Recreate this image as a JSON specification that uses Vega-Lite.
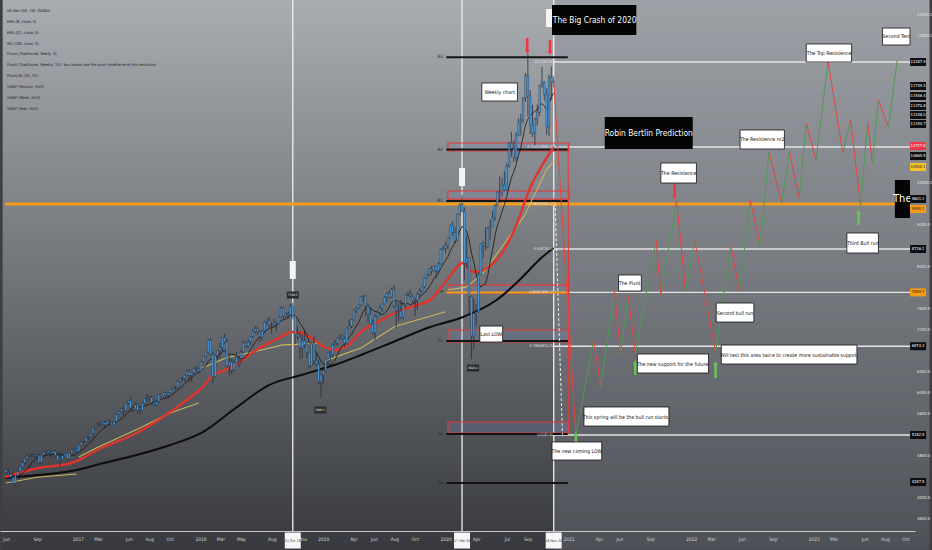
{
"$schema": "https://vega.github.io/schema/vega-lite/v6.json",
"width": 915, "height": 531, "padding": {"left": 0, "top": 0, "right": 17, "bottom": 19}, "autosize": {"type": "none"},
"background": "#3d3f45",
"config": {"view": {"stroke": null}, "text": {"font": "Liberation Sans Narrow, DejaVu Sans Condensed, sans-serif"}},
"datasets": {
"candles": [
{"d":"2016-05-30","o":4520,"h":4540,"l":4440,"c":4470},{"d":"2016-06-06","o":4470,"h":4530,"l":4430,"c":4440},{"d":"2016-06-13","o":4440,"h":4450,"l":4350,"c":4380},{"d":"2016-06-20","o":4380,"h":4480,"l":4250,"c":4260},{"d":"2016-06-27","o":4260,"h":4420,"l":4220,"c":4410},{"d":"2016-07-04","o":4410,"h":4500,"l":4360,"c":4490},{"d":"2016-07-11","o":4490,"h":4590,"l":4480,"c":4580},{"d":"2016-07-18","o":4580,"h":4680,"l":4560,"c":4660},{"d":"2016-07-25","o":4660,"h":4740,"l":4630,"c":4730},{"d":"2016-08-01","o":4730,"h":4790,"l":4690,"c":4780},{"d":"2016-08-08","o":4780,"h":4820,"l":4760,"c":4800},{"d":"2016-08-15","o":4800,"h":4820,"l":4770,"c":4800},{"d":"2016-08-22","o":4800,"h":4820,"l":4760,"c":4780},{"d":"2016-08-29","o":4780,"h":4810,"l":4750,"c":4800},{"d":"2016-09-05","o":4800,"h":4830,"l":4640,"c":4660},{"d":"2016-09-12","o":4660,"h":4810,"l":4630,"c":4800},{"d":"2016-09-19","o":4800,"h":4880,"l":4780,"c":4860},{"d":"2016-09-26","o":4860,"h":4900,"l":4820,"c":4880},{"d":"2016-10-03","o":4880,"h":4900,"l":4830,"c":4850},{"d":"2016-10-10","o":4850,"h":4890,"l":4770,"c":4830},{"d":"2016-10-17","o":4830,"h":4890,"l":4800,"c":4870},{"d":"2016-10-24","o":4870,"h":4900,"l":4760,"c":4790},{"d":"2016-10-31","o":4790,"h":4800,"l":4680,"c":4700},{"d":"2016-11-07","o":4700,"h":4860,"l":4580,"c":4720},{"d":"2016-11-14","o":4720,"h":4820,"l":4700,"c":4790},{"d":"2016-11-21","o":4790,"h":4840,"l":4780,"c":4830},{"d":"2016-11-28","o":4830,"h":4840,"l":4700,"c":4730},{"d":"2016-12-05","o":4730,"h":4850,"l":4710,"c":4840},{"d":"2016-12-12","o":4840,"h":4920,"l":4830,"c":4900},{"d":"2016-12-19","o":4900,"h":4930,"l":4880,"c":4920},{"d":"2016-12-26","o":4920,"h":4940,"l":4850,"c":4870},
{"d":"2017-01-02","o":4870,"h":5000,"l":4860,"c":4990},{"d":"2017-01-09","o":4990,"h":5070,"l":4980,"c":5050},{"d":"2017-01-16","o":5050,"h":5080,"l":5020,"c":5060},{"d":"2017-01-23","o":5060,"h":5150,"l":5050,"c":5140},{"d":"2017-01-30","o":5140,"h":5160,"l":5080,"c":5150},{"d":"2017-02-06","o":5150,"h":5220,"l":5140,"c":5210},{"d":"2017-02-13","o":5210,"h":5330,"l":5200,"c":5320},{"d":"2017-02-20","o":5320,"h":5360,"l":5300,"c":5350},{"d":"2017-02-27","o":5350,"h":5420,"l":5330,"c":5370},{"d":"2017-03-06","o":5370,"h":5420,"l":5340,"c":5380},{"d":"2017-03-13","o":5380,"h":5430,"l":5360,"c":5420},{"d":"2017-03-20","o":5420,"h":5450,"l":5330,"c":5380},{"d":"2017-03-27","o":5380,"h":5450,"l":5370,"c":5440},{"d":"2017-04-03","o":5440,"h":5480,"l":5380,"c":5420},{"d":"2017-04-10","o":5420,"h":5440,"l":5360,"c":5370},{"d":"2017-04-17","o":5370,"h":5450,"l":5350,"c":5440},{"d":"2017-04-24","o":5440,"h":5600,"l":5430,"c":5580},{"d":"2017-05-01","o":5580,"h":5640,"l":5560,"c":5630},{"d":"2017-05-08","o":5630,"h":5700,"l":5620,"c":5680},{"d":"2017-05-15","o":5680,"h":5720,"l":5550,"c":5650},{"d":"2017-05-22","o":5650,"h":5800,"l":5640,"c":5790},{"d":"2017-05-29","o":5790,"h":5850,"l":5770,"c":5840},{"d":"2017-06-05","o":5840,"h":5900,"l":5620,"c":5700},{"d":"2017-06-12","o":5700,"h":5760,"l":5610,"c":5680},{"d":"2017-06-19","o":5680,"h":5810,"l":5670,"c":5760},{"d":"2017-06-26","o":5760,"h":5790,"l":5590,"c":5650},{"d":"2017-07-03","o":5650,"h":5680,"l":5580,"c":5660},{"d":"2017-07-10","o":5660,"h":5810,"l":5650,"c":5790},{"d":"2017-07-17","o":5790,"h":5880,"l":5780,"c":5870},{"d":"2017-07-24","o":5870,"h":5970,"l":5820,"c":5880},{"d":"2017-07-31","o":5880,"h":5930,"l":5840,"c":5900},{"d":"2017-08-07","o":5900,"h":5940,"l":5760,"c":5800},{"d":"2017-08-14","o":5800,"h":5870,"l":5740,"c":5760},{"d":"2017-08-21","o":5760,"h":5850,"l":5730,"c":5820},{"d":"2017-08-28","o":5820,"h":5960,"l":5800,"c":5950},{"d":"2017-09-04","o":5950,"h":5980,"l":5900,"c":5920},{"d":"2017-09-11","o":5920,"h":6010,"l":5900,"c":5990},{"d":"2017-09-18","o":5990,"h":6010,"l":5900,"c":5950},{"d":"2017-09-25","o":5950,"h":6000,"l":5880,"c":5990},{"d":"2017-10-02","o":5990,"h":6060,"l":5980,"c":6050},{"d":"2017-10-09","o":6050,"h":6100,"l":6040,"c":6090},{"d":"2017-10-16","o":6090,"h":6110,"l":6040,"c":6090},{"d":"2017-10-23","o":6090,"h":6230,"l":6050,"c":6200},{"d":"2017-10-30","o":6200,"h":6270,"l":6180,"c":6260},{"d":"2017-11-06","o":6260,"h":6290,"l":6210,"c":6260},{"d":"2017-11-13","o":6260,"h":6330,"l":6200,"c":6320},{"d":"2017-11-20","o":6320,"h":6420,"l":6310,"c":6400},{"d":"2017-11-27","o":6400,"h":6440,"l":6200,"c":6320},{"d":"2017-12-04","o":6320,"h":6380,"l":6200,"c":6370},{"d":"2017-12-11","o":6370,"h":6470,"l":6350,"c":6440},{"d":"2017-12-18","o":6440,"h":6500,"l":6400,"c":6450},{"d":"2017-12-25","o":6450,"h":6470,"l":6390,"c":6400},
{"d":"2018-01-01","o":6400,"h":6590,"l":6390,"c":6580},{"d":"2018-01-08","o":6580,"h":6690,"l":6560,"c":6680},{"d":"2018-01-15","o":6680,"h":6770,"l":6660,"c":6760},{"d":"2018-01-22","o":6760,"h":7010,"l":6740,"c":6990},{"d":"2018-01-29","o":6990,"h":7020,"l":6700,"c":6720},{"d":"2018-02-05","o":6720,"h":6780,"l":6170,"c":6300},{"d":"2018-02-12","o":6300,"h":6720,"l":6280,"c":6700},{"d":"2018-02-19","o":6700,"h":6800,"l":6620,"c":6790},{"d":"2018-02-26","o":6790,"h":6940,"l":6640,"c":6850},{"d":"2018-03-05","o":6850,"h":7050,"l":6780,"c":7040},{"d":"2018-03-12","o":7040,"h":7110,"l":6930,"c":6960},{"d":"2018-03-19","o":6960,"h":7010,"l":6480,"c":6500},{"d":"2018-03-26","o":6500,"h":6700,"l":6310,"c":6580},{"d":"2018-04-02","o":6580,"h":6640,"l":6340,"c":6420},{"d":"2018-04-09","o":6420,"h":6620,"l":6400,"c":6560},{"d":"2018-04-16","o":6560,"h":6770,"l":6550,"c":6660},{"d":"2018-04-23","o":6660,"h":6720,"l":6480,"c":6640},{"d":"2018-04-30","o":6640,"h":6800,"l":6530,"c":6760},{"d":"2018-05-07","o":6760,"h":6980,"l":6740,"c":6940},{"d":"2018-05-14","o":6940,"h":6960,"l":6850,"c":6880},{"d":"2018-05-21","o":6880,"h":7000,"l":6850,"c":6960},{"d":"2018-05-28","o":6960,"h":7070,"l":6900,"c":7060},{"d":"2018-06-04","o":7060,"h":7200,"l":7040,"c":7150},{"d":"2018-06-11","o":7150,"h":7260,"l":7120,"c":7210},{"d":"2018-06-18","o":7210,"h":7250,"l":7110,"c":7150},{"d":"2018-06-25","o":7150,"h":7180,"l":6960,"c":7050},{"d":"2018-07-02","o":7050,"h":7180,"l":6990,"c":7170},{"d":"2018-07-09","o":7170,"h":7350,"l":7150,"c":7330},{"d":"2018-07-16","o":7330,"h":7400,"l":7280,"c":7360},{"d":"2018-07-23","o":7360,"h":7430,"l":7230,"c":7280},{"d":"2018-07-30","o":7280,"h":7330,"l":7110,"c":7280},{"d":"2018-08-06","o":7280,"h":7400,"l":7270,"c":7320},{"d":"2018-08-13","o":7320,"h":7340,"l":7150,"c":7300},{"d":"2018-08-20","o":7300,"h":7450,"l":7290,"c":7430},{"d":"2018-08-27","o":7430,"h":7630,"l":7420,"c":7600},{"d":"2018-09-03","o":7600,"h":7630,"l":7390,"c":7450},{"d":"2018-09-10","o":7450,"h":7520,"l":7420,"c":7490},{"d":"2018-09-17","o":7490,"h":7530,"l":7400,"c":7470},{"d":"2018-09-24","o":7470,"h":7680,"l":7450,"c":7630},{"d":"2018-10-01","o":7630,"h":7700,"l":7390,"c":7450},{"d":"2018-10-08","o":7450,"h":7450,"l":6920,"c":7100},{"d":"2018-10-15","o":7100,"h":7250,"l":7010,"c":7050},{"d":"2018-10-22","o":7050,"h":7150,"l":6630,"c":6850},{"d":"2018-10-29","o":6850,"h":7100,"l":6650,"c":6980},{"d":"2018-11-05","o":6980,"h":7190,"l":6850,"c":6900},{"d":"2018-11-12","o":6900,"h":6960,"l":6650,"c":6760},{"d":"2018-11-19","o":6760,"h":6760,"l":6450,"c":6500},{"d":"2018-11-26","o":6500,"h":6950,"l":6490,"c":6930},{"d":"2018-12-03","o":6930,"h":7050,"l":6520,"c":6600},{"d":"2018-12-10","o":6600,"h":6750,"l":6500,"c":6530},{"d":"2018-12-17","o":6530,"h":6600,"l":6150,"c":6200},{"d":"2018-12-24","o":6200,"h":6350,"l":5900,"c":6330},{"d":"2018-12-31","o":6330,"h":6450,"l":6150,"c":6410},
{"d":"2019-01-07","o":6410,"h":6650,"l":6400,"c":6630},{"d":"2019-01-14","o":6630,"h":6770,"l":6550,"c":6750},{"d":"2019-01-21","o":6750,"h":6780,"l":6580,"c":6720},{"d":"2019-01-28","o":6720,"h":6930,"l":6650,"c":6900},{"d":"2019-02-04","o":6900,"h":7000,"l":6880,"c":6930},{"d":"2019-02-11","o":6930,"h":7050,"l":6890,"c":7030},{"d":"2019-02-18","o":7030,"h":7090,"l":7000,"c":7060},{"d":"2019-02-25","o":7060,"h":7110,"l":7000,"c":7020},{"d":"2019-03-04","o":7020,"h":7060,"l":6860,"c":6930},{"d":"2019-03-11","o":6930,"h":7230,"l":6900,"c":7220},{"d":"2019-03-18","o":7220,"h":7380,"l":7220,"c":7260},{"d":"2019-03-25","o":7260,"h":7400,"l":7220,"c":7380},{"d":"2019-04-01","o":7380,"h":7570,"l":7360,"c":7560},{"d":"2019-04-08","o":7560,"h":7620,"l":7510,"c":7600},{"d":"2019-04-15","o":7600,"h":7660,"l":7580,"c":7660},{"d":"2019-04-22","o":7660,"h":7830,"l":7640,"c":7820},{"d":"2019-04-29","o":7820,"h":7840,"l":7720,"c":7830},{"d":"2019-05-06","o":7830,"h":7850,"l":7450,"c":7640},{"d":"2019-05-13","o":7640,"h":7690,"l":7330,"c":7480},{"d":"2019-05-20","o":7480,"h":7590,"l":7290,"c":7300},{"d":"2019-05-27","o":7300,"h":7380,"l":7100,"c":7130},{"d":"2019-06-03","o":7130,"h":7490,"l":6990,"c":7440},{"d":"2019-06-10","o":7440,"h":7560,"l":7420,"c":7520},{"d":"2019-06-17","o":7520,"h":7650,"l":7480,"c":7600},{"d":"2019-06-24","o":7600,"h":7680,"l":7530,"c":7680},{"d":"2019-07-01","o":7680,"h":7830,"l":7670,"c":7810},{"d":"2019-07-08","o":7810,"h":7900,"l":7720,"c":7880},{"d":"2019-07-15","o":7880,"h":7940,"l":7790,"c":7810},{"d":"2019-07-22","o":7810,"h":7990,"l":7790,"c":7960},{"d":"2019-07-29","o":7960,"h":8040,"l":7600,"c":7630},{"d":"2019-08-05","o":7630,"h":7750,"l":7220,"c":7560},{"d":"2019-08-12","o":7560,"h":7700,"l":7350,"c":7540},{"d":"2019-08-19","o":7540,"h":7760,"l":7400,"c":7420},{"d":"2019-08-26","o":7420,"h":7700,"l":7380,"c":7660},{"d":"2019-09-02","o":7660,"h":7860,"l":7600,"c":7850},{"d":"2019-09-09","o":7850,"h":7920,"l":7830,"c":7860},{"d":"2019-09-16","o":7860,"h":7950,"l":7800,"c":7820},{"d":"2019-09-23","o":7820,"h":7860,"l":7700,"c":7740},{"d":"2019-09-30","o":7740,"h":7800,"l":7450,"c":7740},{"d":"2019-10-07","o":7740,"h":7900,"l":7560,"c":7870},{"d":"2019-10-14","o":7870,"h":7980,"l":7820,"c":7920},{"d":"2019-10-21","o":7920,"h":8030,"l":7900,"c":8010},{"d":"2019-10-28","o":8010,"h":8180,"l":7980,"c":8170},{"d":"2019-11-04","o":8170,"h":8250,"l":8150,"c":8240},{"d":"2019-11-11","o":8240,"h":8360,"l":8200,"c":8350},{"d":"2019-11-18","o":8350,"h":8400,"l":8230,"c":8300},{"d":"2019-11-25","o":8300,"h":8420,"l":8290,"c":8400},{"d":"2019-12-02","o":8400,"h":8410,"l":8170,"c":8310},{"d":"2019-12-09","o":8310,"h":8470,"l":8260,"c":8440},{"d":"2019-12-16","o":8440,"h":8740,"l":8430,"c":8720},{"d":"2019-12-23","o":8720,"h":8790,"l":8700,"c":8740},{"d":"2019-12-30","o":8740,"h":8870,"l":8640,"c":8800},
{"d":"2020-01-06","o":8800,"h":8950,"l":8720,"c":8940},{"d":"2020-01-13","o":8940,"h":9190,"l":8930,"c":9180},{"d":"2020-01-20","o":9180,"h":9250,"l":8980,"c":9040},{"d":"2020-01-27","o":9040,"h":9150,"l":8840,"c":8880},{"d":"2020-02-03","o":8880,"h":9400,"l":8870,"c":9390},{"d":"2020-02-10","o":9390,"h":9590,"l":9370,"c":9580},{"d":"2020-02-17","o":9580,"h":9760,"l":9420,"c":9450},{"d":"2020-02-24","o":9450,"h":9520,"l":8130,"c":8460},{"d":"2020-03-02","o":8460,"h":8980,"l":8360,"c":8560},{"d":"2020-03-09","o":8560,"h":8570,"l":7500,"c":7820},{"d":"2020-03-16","o":7820,"h":7840,"l":6630,"c":7070},{"d":"2020-03-23","o":7070,"h":7790,"l":6820,"c":7500},{"d":"2020-03-30","o":7500,"h":7680,"l":7260,"c":7530},{"d":"2020-04-06","o":7530,"h":8280,"l":7520,"c":8230},{"d":"2020-04-13","o":8230,"h":8840,"l":8220,"c":8830},{"d":"2020-04-20","o":8830,"h":8880,"l":8550,"c":8790},{"d":"2020-04-27","o":8790,"h":9140,"l":8700,"c":8770},{"d":"2020-05-04","o":8770,"h":9150,"l":8740,"c":9120},{"d":"2020-05-11","o":9120,"h":9290,"l":8900,"c":9150},{"d":"2020-05-18","o":9150,"h":9450,"l":9150,"c":9320},{"d":"2020-05-25","o":9320,"h":9580,"l":9260,"c":9560},{"d":"2020-06-01","o":9560,"h":9830,"l":9540,"c":9810},{"d":"2020-06-08","o":9810,"h":10110,"l":9600,"c":9790},{"d":"2020-06-15","o":9790,"h":10080,"l":9720,"c":9950},{"d":"2020-06-22","o":9950,"h":10210,"l":9830,"c":9850},{"d":"2020-06-29","o":9850,"h":10360,"l":9840,"c":10310},{"d":"2020-07-06","o":10310,"h":10760,"l":10280,"c":10750},{"d":"2020-07-13","o":10750,"h":10960,"l":10480,"c":10640},{"d":"2020-07-20","o":10640,"h":10800,"l":10380,"c":10460},{"d":"2020-07-27","o":10460,"h":10950,"l":10400,"c":10900},{"d":"2020-08-03","o":10900,"h":11220,"l":10870,"c":11150},{"d":"2020-08-10","o":11150,"h":11300,"l":10890,"c":11180},{"d":"2020-08-17","o":11180,"h":11620,"l":11120,"c":11600},{"d":"2020-08-24","o":11600,"h":12080,"l":11530,"c":12030},{"d":"2020-08-31","o":12030,"h":12440,"l":11250,"c":11640},{"d":"2020-09-07","o":11640,"h":11750,"l":10910,"c":11080},{"d":"2020-09-14","o":11080,"h":11480,"l":10860,"c":10930},{"d":"2020-09-21","o":10930,"h":11230,"l":10670,"c":11200},{"d":"2020-09-28","o":11200,"h":11480,"l":11080,"c":11330},{"d":"2020-10-05","o":11330,"h":11850,"l":11260,"c":11850},{"d":"2020-10-12","o":11850,"h":12190,"l":11800,"c":11900},{"d":"2020-10-19","o":11900,"h":11920,"l":11550,"c":11670},{"d":"2020-10-26","o":11670,"h":11790,"l":10900,"c":11050},{"d":"2020-11-02","o":11050,"h":12050,"l":10880,"c":12000},{"d":"2020-11-09","o":12000,"h":12200,"l":11570,"c":11900},{"d":"2020-11-16","o":11900,"h":12020,"l":11800,"c":11920}
],
"ma100": [
{"d":"2016-05-27","v":4364},{"d":"2016-09-02","v":4421},{"d":"2016-12-11","v":4498},{"d":"2017-03-17","v":4650},{"d":"2017-06-23","v":4802},{"d":"2017-10-01","v":4993},{"d":"2018-01-06","v":5240},{"d":"2018-04-14","v":5697},{"d":"2018-07-22","v":6135},{"d":"2018-10-27","v":6326},{"d":"2019-02-02","v":6516},{"d":"2019-04-22","v":6707},{"d":"2019-08-03","v":6974},{"d":"2019-11-14","v":7240},{"d":"2020-02-20","v":7431},{"d":"2020-05-30","v":7755},{"d":"2020-08-06","v":8135},{"d":"2020-10-13","v":8574},{"d":"2020-11-16","v":8745}
],
"ema21": [
{"d":"2016-05-27","v":4383},{"d":"2016-09-02","v":4555},{"d":"2016-12-11","v":4650},{"d":"2017-03-17","v":4955},{"d":"2017-06-23","v":5221},{"d":"2017-10-01","v":5621},{"d":"2017-12-16","v":5983},{"d":"2018-01-06","v":6097},{"d":"2018-02-05","v":6326},{"d":"2018-03-15","v":6421},{"d":"2018-05-04","v":6612},{"d":"2018-06-23","v":6840},{"d":"2018-08-09","v":6993},{"d":"2018-09-29","v":7145},{"d":"2018-10-28","v":7126},{"d":"2018-11-26","v":7030},{"d":"2019-01-03","v":6859},{"d":"2019-02-02","v":6802},{"d":"2019-03-15","v":6897},{"d":"2019-04-22","v":7150},{"d":"2019-06-15","v":7350},{"d":"2019-08-15","v":7550},{"d":"2019-10-01","v":7650},{"d":"2019-11-14","v":7755},{"d":"2020-01-03","v":8136},{"d":"2020-02-20","v":8460},{"d":"2020-03-21","v":8288},{"d":"2020-04-19","v":8326},{"d":"2020-06-17","v":8669},{"d":"2020-07-28","v":9183},{"d":"2020-09-04","v":9850},{"d":"2020-10-13","v":10326},{"d":"2020-11-16","v":10669}
],
"vwap": [
{"d":"2016-05-30","v":4270},{"d":"2016-09-01","v":4380},{"d":"2016-12-26","v":4440},
{"d":"2017-01-02","v":4764},{"d":"2017-03-01","v":4955},{"d":"2017-06-26","v":5300},{"d":"2017-10-01","v":5602},{"d":"2017-12-25","v":5793},
{"d":"2018-01-01","v":6450},{"d":"2018-03-15","v":6650},{"d":"2018-06-01","v":6760},{"d":"2018-09-01","v":6900},{"d":"2018-12-24","v":6930},
{"d":"2019-01-07","v":6600},{"d":"2019-04-22","v":6840},{"d":"2019-08-01","v":7250},{"d":"2019-12-30","v":7530},
{"d":"2020-01-06","v":7950},{"d":"2020-03-01","v":8000},{"d":"2020-04-20","v":8270},{"d":"2020-08-22","v":9374},{"d":"2020-10-25","v":10230},{"d":"2020-11-16","v":10400}
],
"zig": [
{"t1":"2020-11-16","v1":11920,"t2":"2021-01-21","v2":5183},{"t1":"2021-01-21","v1":5183,"t2":"2021-03-15","v2":6993},{"t1":"2021-03-15","v1":6993,"t2":"2021-04-05","v2":6117},{"t1":"2021-04-05","v1":6117,"t2":"2021-05-16","v2":7926},{"t1":"2021-05-16","v1":7926,"t2":"2021-06-03","v2":6726},{"t1":"2021-06-03","v1":6726,"t2":"2021-06-26","v2":7850},{"t1":"2021-06-26","v1":7850,"t2":"2021-07-17","v2":6726},{"t1":"2021-07-17","v1":6726,"t2":"2021-09-17","v2":8897},{"t1":"2021-09-17","v1":8897,"t2":"2021-10-01","v2":7850},{"t1":"2021-10-01","v1":7850,"t2":"2021-11-17","v2":9650},{"t1":"2021-11-17","v1":9650,"t2":"2021-12-14","v2":7907},{"t1":"2021-12-14","v1":7907,"t2":"2022-01-10","v2":8897},{"t1":"2022-01-10","v1":8897,"t2":"2022-03-13","v2":6760},{"t1":"2022-03-13","v1":6760,"t2":"2022-04-27","v2":8802},{"t1":"2022-04-27","v1":8802,"t2":"2022-05-23","v2":7907},{"t1":"2022-05-23","v1":7907,"t2":"2022-06-24","v2":9659},{"t1":"2022-06-24","v1":9659,"t2":"2022-07-24","v2":8802},{"t1":"2022-07-24","v1":8802,"t2":"2022-08-19","v2":10574},{"t1":"2022-08-19","v1":10574,"t2":"2022-09-26","v2":9602},{"t1":"2022-09-26","v1":9602,"t2":"2022-10-19","v2":10574},{"t1":"2022-10-19","v1":10574,"t2":"2022-11-17","v2":9698},{"t1":"2022-11-17","v1":9698,"t2":"2022-12-08","v2":11126},{"t1":"2022-12-08","v1":11126,"t2":"2023-01-06","v2":10421},{"t1":"2023-01-06","v1":10421,"t2":"2023-02-11","v2":12288},{"t1":"2023-02-11","v1":12288,"t2":"2023-03-27","v2":10555},{"t1":"2023-03-27","v1":10555,"t2":"2023-04-19","v2":11183},{"t1":"2023-04-19","v1":11183,"t2":"2023-05-19","v2":9564},{"t1":"2023-05-19","v1":9564,"t2":"2023-06-09","v2":11126},{"t1":"2023-06-09","v1":11126,"t2":"2023-06-23","v2":10364},{"t1":"2023-06-23","v1":10364,"t2":"2023-07-11","v2":11564},{"t1":"2023-07-11","v1":11564,"t2":"2023-08-10","v2":11050},{"t1":"2023-08-10","v1":11050,"t2":"2023-09-05","v2":12326}
],
"arrows": [
{"d":"2020-08-29","tip":12478,"base":12745},{"d":"2020-11-05","tip":12459,"base":12707},{"d":"2021-11-11","tip":9716,"base":9983},
{"d":"2021-01-21","tip":5202,"base":4955},{"d":"2021-07-17","tip":6574,"base":6326},{"d":"2022-03-13","tip":6555,"base":6269},{"d":"2023-05-13","tip":9431,"base":9183}
],
"notes": [
{"t":"Weekly chart","x1":"2020-04-16","x2":"2020-07-31","y1":11888,"y2":11545,"tx":"2020-06-08","ty":11716},
{"t":"Last LOW","x1":"2020-04-10","x2":"2020-06-17","y1":7259,"y2":6955,"tx":"2020-05-14","ty":7107},
{"t":"The Pivot","x1":"2021-05-28","x2":"2021-08-04","y1":8231,"y2":7926,"tx":"2021-06-30","ty":8078},
{"t":"The new support for the future","x1":"2021-07-23","x2":"2022-02-20","y1":6726,"y2":6364,"tx":"2021-11-05","ty":6545},
{"t":"This spring will be the bull run starts.","x1":"2021-02-14","x2":"2021-10-25","y1":5717,"y2":5354,"tx":"2021-06-20","ty":5535},
{"t":"The new coming LOW","x1":"2020-11-11","x2":"2021-04-08","y1":5050,"y2":4707,"tx":"2021-01-24","ty":4878},
{"t":"Second bull run","x1":"2022-03-15","x2":"2022-07-05","y1":7697,"y2":7335,"tx":"2022-05-10","ty":7516},
{"t":"Will test this area twice to create more sustainable suppot.","x1":"2022-03-30","x2":"2023-05-08","y1":6897,"y2":6536,"tx":"2022-10-18","ty":6716},
{"t":"The Resistence","x1":"2021-10-01","x2":"2022-01-15","y1":10364,"y2":9983,"tx":"2021-11-23","ty":10174},
{"t":"The Resistence nr2","x1":"2022-05-25","x2":"2022-10-04","y1":10993,"y2":10631,"tx":"2022-07-30","ty":10812},
{"t":"The Top Resistence","x1":"2022-12-08","x2":"2023-04-22","y1":12631,"y2":12288,"tx":"2023-02-14","ty":12459},
{"t":"Second Test","x1":"2023-07-23","x2":"2023-10-13","y1":12935,"y2":12612,"tx":"2023-09-02","ty":12774},
{"t":"Third Bull run","x1":"2023-04-08","x2":"2023-07-11","y1":9031,"y2":8650,"tx":"2023-05-25","ty":8840}
],
"titles": [
{"t":"The Big Crash of 2020","x1":"2020-11-11","x2":"2021-07-20","y1":13374,"y2":12802,"tx":"2021-03-18","ty":13088,"fs":"big"},
{"t":"Robin Bertlin Prediction","x1":"2021-04-17","x2":"2022-01-04","y1":11240,"y2":10631,"tx":"2021-08-26","ty":10935,"fs":"big"},
{"t":"The","x1":"2023-08-29","x2":"2023-10-13","y1":10040,"y2":9317,"tx":"2023-09-20","ty":9680,"fs":"huge"}
],
"pivots": [
{"n":"R3","v":12380},{"n":"R2","v":10620},{"n":"R1","v":9640},{"n":"P","v":7899.7},{"n":"S1","v":6974},{"n":"S2","v":5202},{"n":"S3","v":4269}
],
"zones": [
{"y1":10745,"y2":10593},{"y1":9831,"y2":9678},{"y1":8040,"y2":7888},{"y1":7183,"y2":6955},{"y1":5431,"y2":5221}
],
"fib": [
{"r":"0(12287.9)","v":12287.9},{"r":"0.236(10669.5)","v":10669.5},{"r":"0.382(9580.1)","v":9580.1},{"r":"0.5(8726.1)","v":8726.1},{"r":"0.618(7899.7)","v":7899.7},{"r":"0.786(6874.3)","v":6874.3},{"r":"1(5182.9)","v":5182.9}
],
"tags": [
{"t":"12287.9","v":12287.9,"src":"other"},{"t":"11749.4","v":11831,"src":"other"},{"t":"11546.4","v":11640,"src":"other"},{"t":"11370.8","v":11450,"src":"other"},{"t":"11248.0","v":11278,"src":"other"},{"t":"11154.7","v":11107,"src":"other"},
{"t":"10727.8","v":10688,"src":"ema"},{"t":"10669.5","v":10497,"src":"other"},{"t":"10520.1","v":10288,"src":"vwap"},
{"t":"9601.1","v":9678,"src":"other"},{"t":"9580.1","v":9488,"src":"level"},{"t":"8726.1","v":8726.1,"src":"other"},{"t":"7899.7","v":7899.7,"src":"level"},{"t":"6874.3","v":6874.3,"src":"other"},{"t":"5182.9","v":5182.9,"src":"other"},{"t":"4287.5","v":4287.5,"src":"other"}
],
"legend": [
{"t":"US Nas 100, 1W, OANDA","v":13259},{"t":"EMA (8, close, 0)","v":13050},{"t":"EMA (21, close, 0)","v":12840},{"t":"MA (100, close, 0)","v":12640},{"t":"Pivots (Traditional, Yearly, 3)","v":12440},{"t":"Pivots (Traditional, Weekly, 15): You cannot see the pivot timeframe at this resolution","v":12231},{"t":"Pivots HL (25, 25)","v":12012},{"t":"VWAP (Session, hlc3)","v":11812},{"t":"VWAP (Week, hlc3)","v":11602},{"t":"VWAP (Year, hlc3)","v":11393}
],
"hl": [
{"t":"7700.5","d":"2018-10-01","v":7850},{"t":"5900.1","d":"2018-12-22","v":5659},{"t":"6628.4","d":"2020-03-21","v":6459}
],
"vmarks": [
{"d":"2018-10-01","v":8326},{"d":"2020-02-17","v":10097},{"d":"2020-11-02","v":13126}
],
"dates": [
{"t":"01 Oct 18","d":"2018-10-01"},{"t":"17 Feb 20","d":"2020-02-17"},{"t":"16 Nov 20","d":"2020-11-16"}
],
"xticks": [
{"d":"2016-06-01","t":"Jun"},{"d":"2016-09-01","t":"Sep"},{"d":"2017-01-01","t":"2017"},{"d":"2017-03-01","t":"Mar"},{"d":"2017-06-01","t":"Jun"},{"d":"2017-08-01","t":"Aug"},{"d":"2017-10-01","t":"Oct"},{"d":"2018-01-01","t":"2018"},{"d":"2018-03-01","t":"Mar"},{"d":"2018-05-01","t":"May"},{"d":"2018-08-01","t":"Aug"},{"d":"2018-11-01","t":"Nov"},{"d":"2019-01-01","t":"2019"},{"d":"2019-04-01","t":"Apr"},{"d":"2019-06-01","t":"Jun"},{"d":"2019-08-01","t":"Aug"},{"d":"2019-10-01","t":"Oct"},{"d":"2020-01-01","t":"2020"},{"d":"2020-04-01","t":"Apr"},{"d":"2020-07-01","t":"Jul"},{"d":"2020-09-01","t":"Sep"},{"d":"2021-01-01","t":"2021"},{"d":"2021-04-01","t":"Apr"},{"d":"2021-06-01","t":"Jun"},{"d":"2021-09-01","t":"Sep"},{"d":"2022-01-01","t":"2022"},{"d":"2022-03-01","t":"Mar"},{"d":"2022-06-01","t":"Jun"},{"d":"2022-09-01","t":"Sep"},{"d":"2023-01-01","t":"2023"},{"d":"2023-03-01","t":"Mar"},{"d":"2023-06-01","t":"Jun"},{"d":"2023-08-01","t":"Aug"},{"d":"2023-10-01","t":"Oct"}
]
},
"layer": [
{"data":{"values":[{"x1":"2016-05-20","x2":"2023-12-10","y1":13480,"y2":3000}]},
 "mark":{"type":"rect","fill":{"gradient":"linear","x1":0,"y1":0,"x2":0,"y2":1,"stops":[{"offset":0,"color":"#a9acb1"},{"offset":0.5,"color":"#717479"},{"offset":1,"color":"#37393f"}]}},
 "encoding":{
  "x":{"field":"x1","type":"temporal","scale":{"type":"utc","nice":false,"domain":[{"year":2016,"month":5,"date":27,"utc":true},{"year":2023,"month":10,"date":13,"utc":true}]},
   "axis":{"orient":"bottom","title":null,"labels":false,"ticks":false,"grid":false,"domainColor":"#c9c9c9","domainWidth":1,"zindex":1}},
  "x2":{"field":"x2"},
  "y":{"field":"y1","type":"quantitative","scale":{"nice":false,"zero":false,"domain":[3355,13469]},
   "axis":{"orient":"right","title":null,"values":[3600,4000,4800,5600,6000,6400,7200,7600,8400,9200,10000,12800,13200],"format":".1f","labelFontSize":4.2,"labelColor":"#e2e2e2","labelFont":"DejaVu Sans Condensed","ticks":false,"grid":false,"domain":false,"labelPadding":1.5,"zindex":1,"labelOverlap":false}},
  "y2":{"field":"y2"}}},
{"data":{"values":[{"x1":"2020-11-16","x2":"2023-12-10","y1":13480,"y2":3000}]},
 "mark":{"type":"rect","fill":"#84878d","opacity":0.3},
 "encoding":{"x":{"field":"x1","type":"temporal"},"x2":{"field":"x2"},"y":{"field":"y1","type":"quantitative"},"y2":{"field":"y2"}}},
{"data":{"name":"xticks"},
 "mark":{"type":"text","align":"center","baseline":"middle","fontSize":4.8,"color":"#d6d6d6","font":"DejaVu Sans Condensed"},
 "encoding":{"x":{"field":"d","type":"temporal"},"y":{"datum":3183,"type":"quantitative"},"text":{"field":"t"}}},
{"data":{"name":"dates"},
 "mark":{"type":"rule","color":"#eeeeee","strokeWidth":1.3},
 "encoding":{"x":{"field":"d","type":"temporal"},"y":{"datum":13469,"type":"quantitative"},"y2":{"datum":3355}}},
{"data":{"name":"fib"},
 "mark":{"type":"rule","color":"#e4e4e4","strokeWidth":1.4},
 "encoding":{"x":{"datum":{"year":2020,"month":11,"date":16,"utc":true},"type":"temporal"},"x2":{"datum":{"year":2023,"month":10,"date":13,"utc":true}},"y":{"field":"v","type":"quantitative"}}},
{"data":{"values":[{"v":9585}]},
 "mark":{"type":"rule","color":"#f39c1e","strokeWidth":3},
 "encoding":{"x":{"datum":{"year":2016,"month":5,"date":27,"utc":true},"type":"temporal"},"x2":{"datum":{"year":2023,"month":10,"date":13,"utc":true}},"y":{"field":"v","type":"quantitative"}}},
{"data":{"name":"zones"},
 "mark":{"type":"rect","fill":"#7d8fc4","fillOpacity":0.22,"stroke":"#e53935","strokeWidth":1.2},
 "encoding":{"x":{"datum":{"year":2020,"month":1,"date":6,"utc":true},"type":"temporal"},"x2":{"datum":{"year":2020,"month":12,"date":31,"utc":true}},"y":{"field":"y1","type":"quantitative"},"y2":{"field":"y2"}}},
{"data":{"name":"pivots"},
 "mark":{"type":"rule","strokeWidth":2},
 "encoding":{"x":{"datum":{"year":2020,"month":1,"date":1,"utc":true},"type":"temporal"},"x2":{"datum":{"year":2020,"month":12,"date":28,"utc":true}},"y":{"field":"v","type":"quantitative"},
  "color":{"condition":{"test":"datum.n=='P'","value":"#f39c1e"},"value":"#141414"}}},
{"data":{"name":"pivots"},
 "mark":{"type":"text","align":"right","baseline":"middle","fontSize":4.5,"color":"#262626","font":"DejaVu Sans Condensed"},
 "encoding":{"x":{"datum":{"year":2019,"month":12,"date":22,"utc":true},"type":"temporal"},"y":{"field":"v","type":"quantitative"},"text":{"field":"n"}}},
{"data":{"name":"vwap"},
 "mark":{"type":"line","color":"#c9b65c","strokeWidth":1.1},
 "encoding":{"x":{"field":"d","type":"temporal"},"y":{"field":"v","type":"quantitative"},"detail":{"timeUnit":"utcyear","field":"d","type":"temporal"}}},
{"data":{"name":"ma100"},
 "mark":{"type":"line","color":"#0d0d0d","strokeWidth":2,"interpolate":"monotone"},
 "encoding":{"x":{"field":"d","type":"temporal"},"y":{"field":"v","type":"quantitative"}}},
{"data":{"name":"ema21"},
 "mark":{"type":"line","color":"#e0342c","strokeWidth":2.4,"interpolate":"monotone"},
 "encoding":{"x":{"field":"d","type":"temporal"},"y":{"field":"v","type":"quantitative"}}},
{"data":{"name":"candles"},
 "transform":[{"window":[{"op":"mean","field":"c","as":"e8"}],"frame":[-7,0],"sort":[{"field":"d"}]}],
 "mark":{"type":"line","color":"#151515","strokeWidth":0.8},
 "encoding":{"x":{"field":"d","type":"temporal"},"y":{"field":"e8","type":"quantitative"}}},
{"data":{"name":"candles"},
 "mark":{"type":"rule","color":"#1c2430","strokeWidth":0.7},
 "encoding":{"x":{"field":"d","type":"temporal"},"y":{"field":"l","type":"quantitative"},"y2":{"field":"h"}}},
{"data":{"name":"candles"},
 "mark":{"type":"bar","width":1.7,"fill":"#4fa0e4","stroke":"#18222e","strokeWidth":0.35},
 "encoding":{"x":{"field":"d","type":"temporal"},"y":{"field":"o","type":"quantitative"},"y2":{"field":"c"}}},
{"data":{"values":[{"t1":"2020-11-20","v1":9600,"t2":"2020-12-12","v2":5190}]},
 "mark":{"type":"rule","color":"#e8e8e8","strokeWidth":1,"strokeDash":[3,2]},
 "encoding":{"x":{"field":"t1","type":"temporal"},"x2":{"field":"t2"},"y":{"field":"v1","type":"quantitative"},"y2":{"field":"v2"}}},
{"data":{"values":[{"t1":"2020-12-29","v1":10745,"t2":"2020-12-31","v2":5221}]},
 "mark":{"type":"rule","color":"#e53935","strokeWidth":1},
 "encoding":{"x":{"field":"t1","type":"temporal"},"x2":{"field":"t2"},"y":{"field":"v1","type":"quantitative"},"y2":{"field":"v2"}}},
{"data":{"name":"zig"},
 "mark":{"type":"rule","strokeWidth":1},
 "encoding":{"x":{"field":"t1","type":"temporal"},"x2":{"field":"t2"},"y":{"field":"v1","type":"quantitative"},"y2":{"field":"v2"},
  "color":{"condition":{"test":"datum.v2 < datum.v1","value":"#e5453d"},"value":"#4f9a52"}}},
{"data":{"name":"arrows"},
 "mark":{"type":"rule","strokeWidth":2.6},
 "encoding":{"x":{"field":"d","type":"temporal"},"y":{"field":"base","type":"quantitative"},"y2":{"field":"tip"},
  "color":{"condition":{"test":"datum.tip < datum.base","value":"#f23645"},"value":"#6cc05a"}}},
{"data":{"name":"arrows"},
 "mark":{"type":"point","filled":true,"size":22,"opacity":1},
 "encoding":{"x":{"field":"d","type":"temporal"},"y":{"field":"tip","type":"quantitative"},
  "shape":{"condition":{"test":"datum.tip < datum.base","value":"triangle-down"},"value":"triangle-up"},
  "color":{"condition":{"test":"datum.tip < datum.base","value":"#f23645"},"value":"#6cc05a"}}},
{"data":{"name":"fib"},
 "mark":{"type":"text","align":"right","baseline":"middle","fontSize":3.6,"color":"#e8e8e8","dx":-1,"font":"DejaVu Sans Condensed"},
 "encoding":{"x":{"datum":{"year":2020,"month":11,"date":16,"utc":true},"type":"temporal"},"y":{"field":"v","type":"quantitative"},"text":{"field":"r"}}},
{"data":{"name":"vmarks"},
 "mark":{"type":"tick","orient":"vertical","size":18,"thickness":6,"color":"#f4f4f4","opacity":1},
 "encoding":{"x":{"field":"d","type":"temporal"},"y":{"field":"v","type":"quantitative"}}},
{"data":{"name":"hl"},
 "mark":{"type":"tick","orient":"horizontal","size":12,"thickness":7,"color":"#2a2c31","opacity":1},
 "encoding":{"x":{"field":"d","type":"temporal"},"y":{"field":"v","type":"quantitative"}}},
{"data":{"name":"hl"},
 "mark":{"type":"text","align":"center","baseline":"middle","fontSize":3,"color":"#f0f0f0","font":"DejaVu Sans Condensed"},
 "encoding":{"x":{"field":"d","type":"temporal"},"y":{"field":"v","type":"quantitative"},"text":{"field":"t"}}},
{"data":{"name":"notes"},
 "mark":{"type":"rect","fill":"#ffffff","stroke":"#111111","strokeWidth":0.8},
 "encoding":{"x":{"field":"x1","type":"temporal"},"x2":{"field":"x2"},"y":{"field":"y1","type":"quantitative"},"y2":{"field":"y2"}}},
{"data":{"name":"notes"},
 "mark":{"type":"text","align":"center","baseline":"middle","fontSize":5.2,"color":"#111111"},
 "encoding":{"x":{"field":"tx","type":"temporal"},"y":{"field":"ty","type":"quantitative"},"text":{"field":"t"}}},
{"data":{"name":"titles"},
 "mark":{"type":"rect","fill":"#050505"},
 "encoding":{"x":{"field":"x1","type":"temporal"},"x2":{"field":"x2"},"y":{"field":"y1","type":"quantitative"},"y2":{"field":"y2"}}},
{"data":{"name":"titles"},
 "mark":{"type":"text","align":"center","baseline":"middle","color":"#ffffff"},
 "encoding":{"x":{"field":"tx","type":"temporal"},"y":{"field":"ty","type":"quantitative"},"text":{"field":"t"},
  "size":{"field":"fs","type":"nominal","scale":{"domain":["big","huge"],"range":[8.4,11]},"legend":null}}},
{"data":{"name":"tags"},
 "mark":{"type":"tick","orient":"horizontal","size":16,"thickness":8,"opacity":1},
 "encoding":{"x":{"datum":{"year":2023,"month":11,"date":6,"utc":true},"type":"temporal"},"y":{"field":"v","type":"quantitative"},
  "color":{"field":"src","type":"nominal","scale":{"domain":["other","ema","vwap","level"],"range":["#0e0e10","#f23645","#f6c12a","#f59b1a"]},"legend":null}}},
{"data":{"name":"tags"},
 "mark":{"type":"text","align":"center","baseline":"middle","fontSize":4,"font":"DejaVu Sans Condensed"},
 "encoding":{"x":{"datum":{"year":2023,"month":11,"date":6,"utc":true},"type":"temporal"},"y":{"field":"v","type":"quantitative"},"text":{"field":"t"},
  "color":{"condition":{"test":"datum.src=='vwap' || datum.src=='level'","value":"#1a1a1a"},"value":"#ffffff"}}},
{"data":{"name":"legend"},
 "mark":{"type":"text","align":"left","baseline":"middle","fontSize":3.9,"color":"#232323","font":"DejaVu Sans Condensed"},
 "encoding":{"x":{"datum":{"year":2016,"month":6,"date":2,"utc":true},"type":"temporal"},"y":{"field":"v","type":"quantitative"},"text":{"field":"t"}}},
{"data":{"name":"dates"},
 "mark":{"type":"tick","orient":"horizontal","size":16,"thickness":16,"color":"#f7f7f7","opacity":1},
 "encoding":{"x":{"field":"d","type":"temporal"},"y":{"datum":3174,"type":"quantitative"}}},
{"data":{"name":"dates"},
 "mark":{"type":"text","align":"center","baseline":"middle","fontSize":3.6,"color":"#333333","font":"DejaVu Sans Condensed"},
 "encoding":{"x":{"field":"d","type":"temporal"},"y":{"datum":3174,"type":"quantitative"},"text":{"field":"t"}}}
]
}
